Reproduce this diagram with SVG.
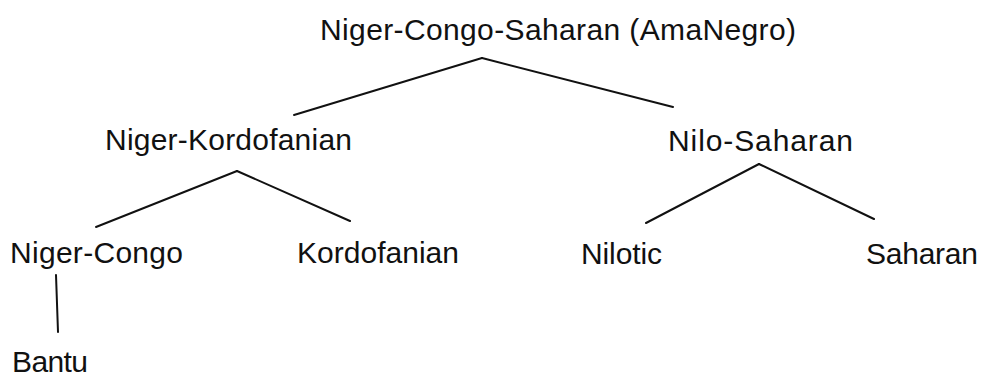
<svg xmlns="http://www.w3.org/2000/svg" width="983" height="378" viewBox="0 0 983 378">
<style>
text{font-family:"Liberation Sans",Arial,sans-serif;font-size:30px;fill:#111}
.c line{stroke:#111;stroke-width:2;stroke-linecap:round}
</style>
<rect width="983" height="378" fill="#fff"/>
<g class="c" id="connectors">
<line x1="482" y1="58" x2="294" y2="115"/>
<line x1="482" y1="58" x2="673" y2="107"/>
<line x1="237" y1="171" x2="96" y2="227"/>
<line x1="237" y1="171" x2="350" y2="221"/>
<line x1="759" y1="164" x2="646" y2="223"/>
<line x1="759" y1="164" x2="874" y2="219"/>
<line x1="56" y1="275" x2="58" y2="332"/>
</g>
<g id="n-root"><text x="320" y="40" textLength="476">Niger-Congo-Saharan (AmaNegro)</text></g>
<g id="n-nk"><text x="105" y="150" textLength="247">Niger-Kordofanian</text></g>
<g id="n-ns"><text x="668" y="151" textLength="185">Nilo-Saharan</text></g>
<g id="n-nc"><text x="10" y="263" textLength="173">Niger-Congo</text></g>
<g id="n-k"><text x="297" y="263" textLength="162">Kordofanian</text></g>
<g id="n-nil"><text x="581" y="264" textLength="81">Nilotic</text></g>
<g id="n-sah"><text x="866" y="264" textLength="112">Saharan</text></g>
<g id="n-bantu"><text x="12" y="372" textLength="76">Bantu</text></g>
</svg>
